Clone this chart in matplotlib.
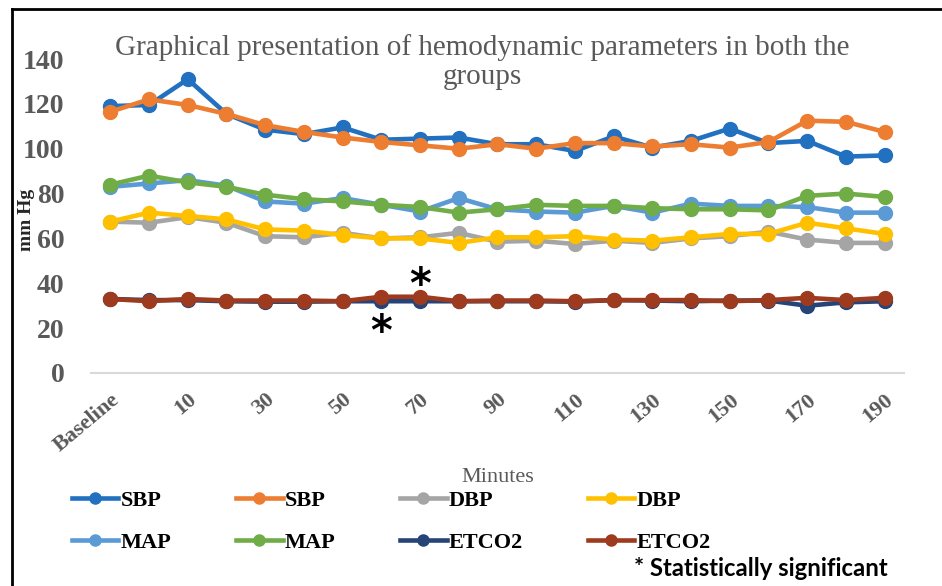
import matplotlib
matplotlib.use("Agg")
import matplotlib.pyplot as plt
from matplotlib.lines import Line2D

# categorias del eje x
minutos = ["Baseline"] + [str(m) for m in range(0, 200, 10)]

# grupo 1 / grupo 2
sbp_1 = [119, 119.5, 131, 115.5, 108.5, 106.5, 109.5, 104, 104.5, 105, 102, 102, 99, 105.5, 100.5, 103.5, 109, 102.5, 103.5, 96.5, 97]
sbp_2 = [116.5, 122, 119.5, 115.5, 110.5, 107.5, 105, 103, 101.5, 100, 102, 100, 102.5, 102.5, 101, 102, 100.5, 103, 112.5, 112, 107.5]
dbp_1 = [67.5, 67, 69.5, 67, 61, 60.5, 62.5, 60, 60.5, 62.5, 58.5, 59, 57.5, 59, 58, 60, 61, 63, 59.5, 58, 58]
dbp_2 = [67.5, 71.5, 70, 68.5, 64, 63.5, 61.5, 60, 60, 58, 60.5, 60.5, 61, 59.5, 59, 60.5, 62, 62, 67, 64.5, 62]
map_1 = [83, 84.5, 86, 83.5, 76.5, 75.5, 78, 75, 72, 78, 73, 72, 71.5, 74.5, 71.5, 75.5, 74.5, 74.5, 74, 71.5, 71.5]
map_2 = [84, 88, 85, 83, 79.5, 77.5, 76.5, 75, 74, 71.5, 73, 75, 74.5, 74.5, 73.5, 73, 73, 72.5, 79, 80, 78.5]
etco2_1 = [33, 32.5, 32.5, 32, 31.8, 31.8, 32, 32, 32, 32, 32, 32, 31.8, 32.5, 32.3, 32, 32.3, 32.3, 30, 31.5, 32]
etco2_2 = [33, 32, 33, 32.3, 32.3, 32.3, 32, 34, 34, 32, 32.3, 32.3, 32, 32.5, 32.5, 32.5, 32, 32.5, 33.5, 32.5, 33.5]

# asteriscos (indice, valor)
significativos = [(8, 39), (7, 18)]

series = [
    ("SBP", sbp_1, "#2270C0"),
    ("SBP", sbp_2, "#ED7D31"),
    ("DBP", dbp_1, "#A5A5A5"),
    ("DBP", dbp_2, "#FFC000"),
    ("MAP", map_1, "#5B9BD5"),
    ("MAP", map_2, "#70AD47"),
    ("ETCO2", etco2_1, "#264478"),
    ("ETCO2", etco2_2, "#9E3B1E"),
]

fig = plt.figure(figsize=(9.42, 5.86), dpi=100)
ax = fig.add_axes([0.0966, 0.3635, 0.863, 0.5358])

x = list(range(len(minutos)))
lineas = []
for nombre, valores, color in series:
    l, = ax.plot(x, valores, color=color, lw=3.3, marker="o", markersize=10, label=nombre, clip_on=False)
    lineas.append(l)

for idx, val in significativos:
    ax.text(idx, val, "*", ha="center", va="center", fontsize=30, fontweight="bold", color="black")

ax.set_xlim(-0.5, len(minutos) - 0.5)
ax.set_ylim(0, 140)
ax.set_yticks(range(0, 141, 20))
ax.set_yticklabels([str(v) for v in range(0, 141, 20)], fontfamily="Liberation Serif",
                   fontweight="bold", fontsize=20, color="#595959")
ax.set_xticks(x[::2])
ax.set_xticklabels(minutos[::2], rotation=40, ha="right", va="top", rotation_mode="anchor",
                   fontfamily="Liberation Serif", fontweight="bold", fontsize=16, color="#595959")
ax.tick_params(axis="x", length=0, pad=12)
ax.tick_params(axis="y", length=0, pad=19)
for s in ["top", "right", "left"]:
    ax.spines[s].set_visible(False)
ax.spines["bottom"].set_color("#D9D9D9")
ax.spines["bottom"].set_linewidth(1.5)

fig.text(0.512, 0.895, "Graphical presentation of hemodynamic parameters in both the\ngroups",
         ha="center", va="center", fontfamily="Liberation Serif", fontsize=21, color="#595959",
         linespacing=1.15)
fig.text(0.028, 0.625, "mm Hg", rotation=90, ha="center", va="center",
         fontfamily="Liberation Serif", fontweight="bold", fontsize=14, color="#262626")
fig.text(0.528, 0.185, "Minutes", ha="center", va="center",
         fontfamily="Liberation Serif", fontsize=16, color="#595959")

orden = [0, 4, 1, 5, 2, 6, 3, 7]
fig.legend([lineas[i] for i in orden], [series[i][0] for i in orden], ncol=4,
           loc="upper left", bbox_to_anchor=(0.055, 0.197), frameon=False,
           prop={"family": "Liberation Serif", "weight": "bold", "size": 16},
           handlelength=2.1, handletextpad=0.1, columnspacing=2.9, labelspacing=0.95,
           markerscale=0.8)

fig.text(0.673, 0.03, "* Statistically significant", ha="left", va="center",
         fontfamily="Lato", fontweight="bold", fontsize=17.2, color="black")

# marco de la figura
fig.add_artist(Line2D([12 / 942, 12 / 942], [0, 1 - 9 / 586], transform=fig.transFigure, color="black", lw=2))
fig.add_artist(Line2D([12 / 942, 1], [1 - 9 / 586, 1 - 9 / 586], transform=fig.transFigure, color="black", lw=2))

fig.savefig("out.png", dpi=100)
